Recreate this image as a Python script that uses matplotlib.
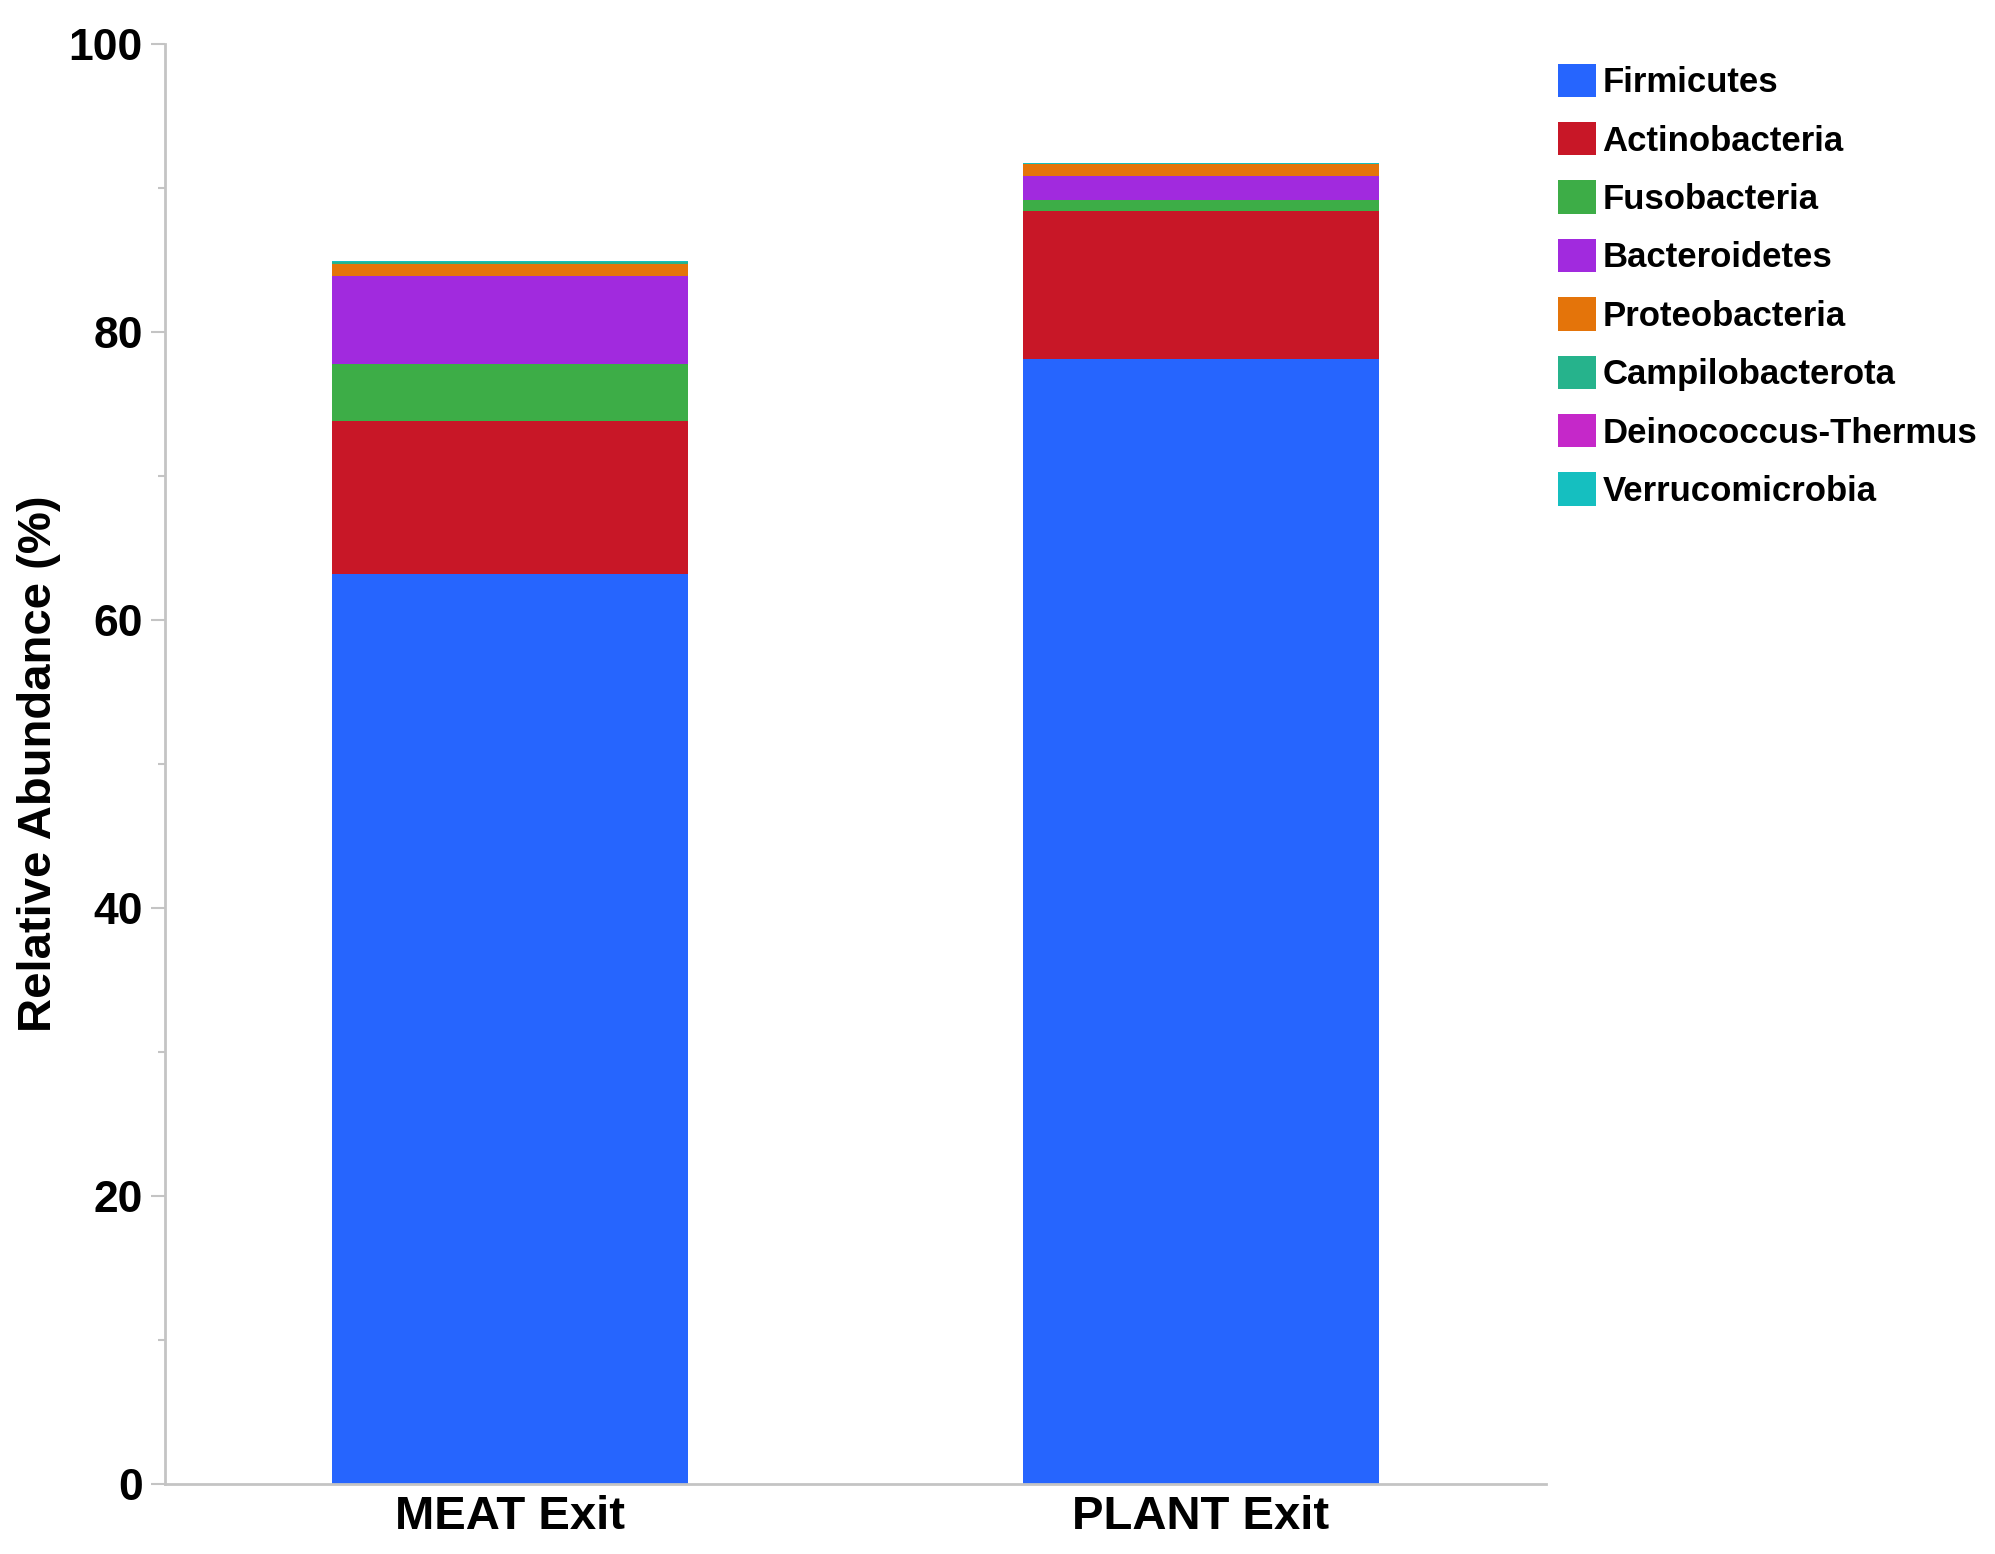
import numpy as np
import matplotlib
matplotlib.use("Agg")
from matplotlib import pyplot as plt
from matplotlib.patches import Patch

plt.rcParams['font.family'] = ['Liberation Sans', 'DejaVu Sans']
plt.rcParams['font.weight'] = 'bold'

# samples and phyla
samples = ['MEAT Exit', 'PLANT Exit']
phyla = ['Firmicutes', 'Actinobacteria', 'Fusobacteria', 'Bacteroidetes',
         'Proteobacteria', 'Campilobacterota', 'Deinococcus-Thermus',
         'Verrucomicrobia']
colors = ['#2665fe', '#c81727', '#3dad47', '#a12ade', '#e4740a',
          '#26b38c', '#c528c9', '#15bfc0']

# relative abundance (%) per phylum, MEAT then PLANT
firmicutes = [63.2, 78.1]
actinobacteria = [10.6, 10.3]
fusobacteria = [4.0, 0.8]
bacteroidetes = [6.1, 1.65]
proteobacteria = [0.8, 0.8]
campilobacterota = [0.15, 0.03]
deinococcus = [0.02, 0.01]
verrucomicrobia = [0.05, 0.02]

values = [firmicutes, actinobacteria, fusobacteria, bacteroidetes,
          proteobacteria, campilobacterota, deinococcus, verrucomicrobia]

fig = plt.figure(figsize=(19.95, 15.54), dpi=100)
ax = fig.add_axes([0.0827, 0.045, 0.775 - 0.0827, 0.9717 - 0.045])

x = np.arange(len(samples))
bottom = np.zeros(len(samples))
for name, vals, col in zip(phyla, values, colors):
    ax.bar(x, vals, width=0.515, bottom=bottom, color=col, label=name,
           linewidth=0)
    bottom += np.array(vals)

ax.set_xlim(-0.5, 1.5)
ax.set_ylim(0, 100)
ax.set_yticks(np.arange(0, 101, 20))
ax.set_yticks(np.arange(10, 100, 20), minor=True)
ax.set_xticks(x)
ax.set_xticklabels(samples, fontsize=34, fontweight='bold')
ax.tick_params(axis='y', which='major', labelsize=32, length=10, width=1.5,
               color='#c4c4c4', pad=6)
ax.tick_params(axis='y', which='minor', length=5, width=1.5, color='#c4c4c4')
ax.tick_params(axis='x', length=0, pad=8)
for lab in ax.get_yticklabels():
    lab.set_fontweight('bold')

for s in ['top', 'right']:
    ax.spines[s].set_visible(False)
for s in ['left', 'bottom']:
    ax.spines[s].set_color('#c4c4c4')
    ax.spines[s].set_linewidth(2)

ax.set_ylabel('Relative Abundance (%)', fontsize=34, fontweight='bold')
ax.yaxis.set_label_coords(-0.075, 0.5)

handles = [Patch(facecolor=c, edgecolor='none', label=n)
           for n, c in zip(phyla, colors)]
fig.legend(handles=handles, loc='upper left',
           bbox_to_anchor=(0.781, 0.959), frameon=False, fontsize=25,
           handlelength=1.1, handleheight=1.1, handletextpad=0.18,
           labelspacing=0.66, borderpad=0, borderaxespad=0)

fig.savefig('out.png', dpi=100, facecolor='white')
